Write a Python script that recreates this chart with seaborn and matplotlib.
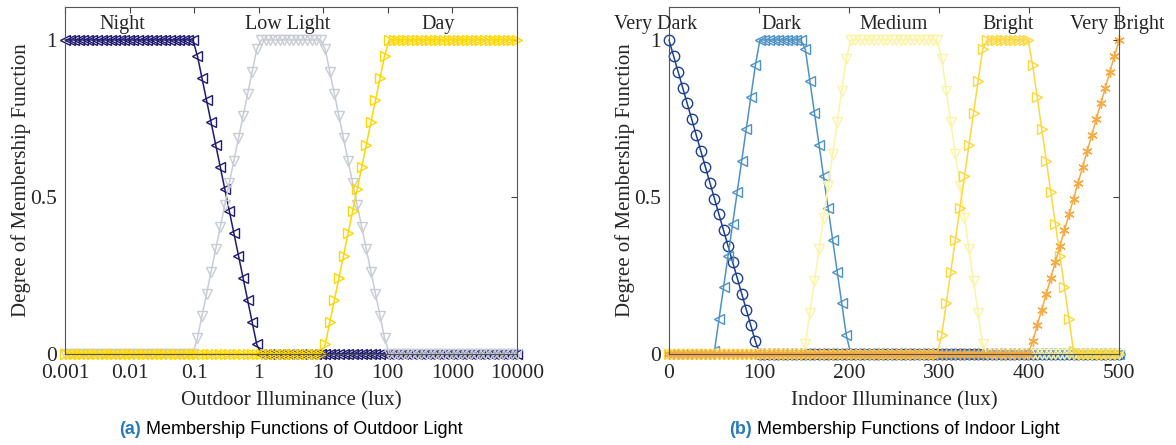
import matplotlib
matplotlib.use("Agg")
import matplotlib.pyplot as plt
import numpy as np
import seaborn as sns

# Breakpoints of the membership functions
outdoor_lux = [0.001, 0.1, 1, 10, 100, 10000]
night_mf = [1, 1, 0, 0, 0, 0]
low_light_mf = [0, 0, 1, 1, 0, 0]
day_mf = [0, 0, 0, 0, 1, 1]

indoor_lux = [0, 50, 100, 150, 200, 300, 350, 400, 450, 500]
very_dark_mf = [1, 0.5, 0, 0, 0, 0, 0, 0, 0, 0]
dark_mf = [0, 0, 1, 1, 0, 0, 0, 0, 0, 0]
medium_mf = [0, 0, 0, 0, 1, 1, 0, 0, 0, 0]
bright_mf = [0, 0, 0, 0, 0, 0, 1, 1, 0, 0]
very_bright_mf = [0, 0, 0, 0, 0, 0, 0, 0, 0.5, 1]

outdoor_names = ["Night", "Low Light", "Day"]
indoor_names = ["Very Dark", "Dark", "Medium", "Bright", "Very Bright"]
outdoor_ticks = [0.001, 0.01, 0.1, 1, 10, 100, 1000, 10000]
outdoor_ticklabels = ["0.001", "0.01", "0.1", "1", "10", "100", "1000", "10000"]
indoor_ticks = [0, 100, 200, 300, 400, 500]

# sampling grids used when the functions were evaluated
x_out = np.logspace(-3, 4, 100)
x_in = np.linspace(0, 500, 100)

sns.set_style("white")
plt.rcParams["font.family"] = ["Liberation Serif", "DejaVu Serif"]

fig = plt.figure(figsize=(11.76, 4.45), dpi=100)
ax1 = fig.add_axes([65 / 1176, 91 / 445, 452 / 1176, 347 / 445])
ax2 = fig.add_axes([669 / 1176, 91 / 445, 450 / 1176, 347 / 445])


def membership(x, bx, by, log=False):
    if log:
        return np.interp(np.log10(x), np.log10(bx), by)
    return np.interp(x, bx, by)


def draw(ax, x, y, color, marker):
    sns.lineplot(
        x=x, y=y, ax=ax, color=color, marker=marker, markersize=7.5,
        markerfacecolor="none", markeredgecolor=color, markeredgewidth=1.0,
        linewidth=1.1, errorbar=None, clip_on=False, sort=False,
    )


# Outdoor
draw(ax1, x_out, membership(x_out, outdoor_lux, night_mf, True), "#1f1a6e", "<")
draw(ax1, x_out, membership(x_out, outdoor_lux, low_light_mf, True), "#c8ccd4", "v")
draw(ax1, x_out, membership(x_out, outdoor_lux, day_mf, True), "#ffd700", ">")
ax1.set_xscale("log")
ax1.set_xlim(0.001, 10000)
ax1.set_xticks(outdoor_ticks)
ax1.set_xticklabels(outdoor_ticklabels)
ax1.minorticks_off()
ax1.set_xlabel("Outdoor Illuminance (lux)", fontsize=15, labelpad=6)
for name, xpos in zip(outdoor_names, [0.0076, 2.8, 590]):
    ax1.text(xpos, 1.048, name, ha="center", va="center", fontsize=14.5)

# Indoor
draw(ax2, x_in, membership(x_in, indoor_lux, very_dark_mf), "#1d3f91", "o")
draw(ax2, x_in, membership(x_in, indoor_lux, dark_mf), "#4d92c3", "<")
draw(ax2, x_in, membership(x_in, indoor_lux, medium_mf), "#fbf4a6", "v")
draw(ax2, x_in, membership(x_in, indoor_lux, bright_mf), "#fdd83c", ">")
draw(ax2, x_in, membership(x_in, indoor_lux, very_bright_mf), "#f4ab45", (6, 2, 0))
ax2.set_xlim(0, 500)
ax2.set_xticks(indoor_ticks)
ax2.set_xlabel("Indoor Illuminance (lux)", fontsize=15, labelpad=6)
for name, xpos in zip(indoor_names, [-15, 125, 250, 377, 498]):
    ax2.text(xpos, 1.048, name, ha="center", va="center", fontsize=14.5, clip_on=False)

for ax in (ax1, ax2):
    ax.set_ylim(0, 1.105)
    ax.set_yticks([0, 0.5, 1])
    ax.set_yticklabels(["0", "0.5", "1"])
    ax.set_ylabel("Degree of Membership Function", fontsize=15)
    ax.yaxis.set_label_coords(-0.075, 0.5)
    ax.tick_params(direction="in", top=True, right=True, labelsize=15.5,
                   length=4, width=0.8, color="#444444")
    ax.tick_params(axis="x", pad=7)
    ax.tick_params(axis="y", pad=6)
    for s in ax.spines.values():
        s.set_color("#555555")
        s.set_linewidth(0.8)

# Sub-captions: bold blue "(a)" followed by plain text
fig.canvas.draw()
renderer = fig.canvas.get_renderer()
for ax, tag, caption in [
    (ax1, "(a)", "Membership Functions of Outdoor Light"),
    (ax2, "(b)", "Membership Functions of Indoor Light"),
]:
    t1 = fig.text(0, 0.034, tag, fontsize=13, fontweight="bold", color="#2a7ab8",
                  family="Liberation Sans", va="center")
    t2 = fig.text(0, 0.034, " " + caption, fontsize=13, color="black",
                  family="Liberation Sans", va="center")
    w1 = t1.get_window_extent(renderer).width / fig.bbox.width
    w2 = t2.get_window_extent(renderer).width / fig.bbox.width
    pos = ax.get_position()
    x0 = (pos.x0 + pos.x1) / 2 - (w1 + w2) / 2
    t1.set_x(x0)
    t2.set_x(x0 + w1)

fig.savefig("out.png", dpi=100)
